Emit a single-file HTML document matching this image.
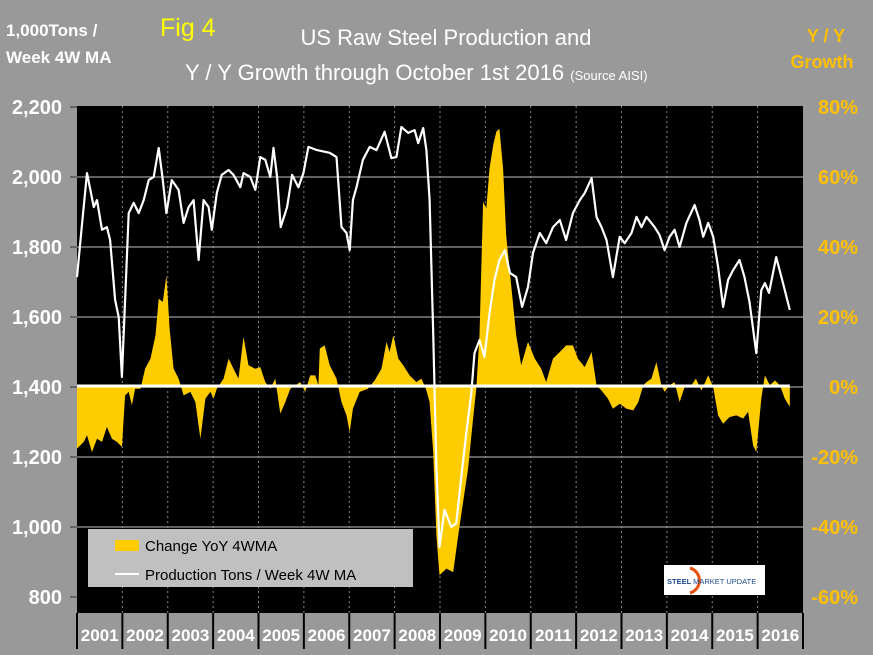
<!DOCTYPE html>
<html><head><meta charset="utf-8"><style>
body{margin:0;background:#999;}
svg{display:block;font-family:"Liberation Sans",Arial,sans-serif;}
</style></head><body>
<svg width="873" height="655" viewBox="0 0 873 655">
<rect width="873" height="655" fill="#999"/>
<text x="6" y="36" font-size="17" font-weight="bold" fill="#fff">1,000Tons /</text>
<text x="6" y="63" font-size="17" font-weight="bold" fill="#fff">Week 4W MA</text>
<text x="160" y="36" font-size="25" fill="#ffff00">Fig 4</text>
<text x="446" y="45" font-size="22" fill="#fff" text-anchor="middle">US Raw Steel Production and</text>
<text x="185" y="80" font-size="22" fill="#fff">Y / Y Growth through October 1st  2016 <tspan font-size="13">(Source AISI)</tspan></text>
<text x="826" y="42" font-size="18" font-weight="bold" fill="#ffc000" text-anchor="middle">Y / Y</text>
<text x="822" y="68" font-size="18" font-weight="bold" fill="#ffc000" text-anchor="middle">Growth</text>
<rect x="77" y="106" width="726" height="507" fill="#000"/>
<g id="grid"></g><g id="area"></g><g id="line"></g><g id="axes"></g>
<rect x="88" y="529" width="325" height="58" fill="#c0c0c0"/>
<rect x="115" y="540" width="24" height="11" fill="#ffcc00"/>
<text x="145" y="551" font-size="15" fill="#000">Change YoY 4WMA</text>
<line x1="115" y1="574" x2="139" y2="574" stroke="#fff" stroke-width="2"/>
<text x="145" y="580" font-size="15" fill="#000">Production Tons / Week 4W MA</text>
<rect x="664" y="565" width="101" height="30" fill="#fff"/>
<path d="M690 568 A13 13 0 0 1 690 593" fill="none" stroke="#e85010" stroke-width="3"/>
<text x="667" y="584" font-size="7.5" font-weight="bold" fill="#1a4a8a">STEEL <tspan font-weight="normal">MARKET UPDATE</tspan></text>
</svg>
<script>
const prodYears=[2001.00,2001.12,2001.22,2001.37,2001.44,2001.55,2001.66,2001.73,2001.84,2001.92,2001.99,2002.06,2002.14,2002.25,2002.36,2002.47,2002.58,2002.69,2002.80,2002.89,2002.97,2003.09,2003.24,2003.35,2003.46,2003.57,2003.68,2003.79,2003.90,2003.97,2004.08,2004.19,2004.34,2004.45,2004.60,2004.67,2004.82,2004.93,2005.04,2005.15,2005.26,2005.33,2005.41,2005.49,2005.63,2005.74,2005.88,2005.99,2006.10,2006.29,2006.57,2006.72,2006.83,2006.94,2007.01,2007.08,2007.16,2007.30,2007.45,2007.60,2007.78,2007.93,2008.04,2008.15,2008.30,2008.44,2008.52,2008.63,2008.70,2008.77,2008.85,2008.92,2008.99,2009.10,2009.25,2009.36,2009.47,2009.58,2009.69,2009.76,2009.87,2009.98,2010.09,2010.20,2010.31,2010.43,2010.54,2010.68,2010.81,2010.94,2011.05,2011.20,2011.34,2011.49,2011.64,2011.78,2011.93,2012.08,2012.19,2012.34,2012.45,2012.56,2012.67,2012.81,2012.96,2013.07,2013.22,2013.33,2013.44,2013.55,2013.73,2013.84,2013.95,2014.06,2014.17,2014.28,2014.43,2014.61,2014.72,2014.80,2014.91,2015.02,2015.13,2015.24,2015.35,2015.46,2015.60,2015.71,2015.82,2015.97,2016.08,2016.16,2016.25,2016.41,2016.56,2016.71];
const prodValues=[1714,1877,2011,1914,1934,1849,1857,1820,1649,1600,1429,1649,1897,1926,1897,1934,1991,2000,2083,1991,1897,1991,1963,1869,1914,1934,1763,1934,1914,1849,1954,2006,2020,2006,1971,2011,2000,1963,2057,2049,2000,2083,2000,1857,1914,2006,1971,2011,2086,2077,2069,2057,1857,1840,1791,1934,1971,2049,2086,2077,2129,2054,2057,2143,2126,2134,2097,2140,2077,1934,1554,1171,943,1049,1000,1011,1143,1269,1383,1497,1534,1486,1611,1706,1763,1791,1726,1714,1629,1686,1783,1840,1811,1857,1877,1820,1897,1934,1954,1997,1886,1857,1820,1714,1829,1811,1840,1886,1857,1886,1857,1834,1791,1829,1849,1800,1869,1920,1877,1829,1869,1829,1743,1629,1706,1734,1763,1714,1643,1497,1677,1697,1669,1771,1697,1620];
const yoyYears=[2001.00,2001.15,2001.22,2001.33,2001.44,2001.55,2001.66,2001.77,2001.88,2001.99,2002.06,2002.14,2002.21,2002.28,2002.40,2002.50,2002.62,2002.73,2002.80,2002.89,2002.97,2003.04,2003.13,2003.24,2003.35,2003.50,2003.61,2003.72,2003.83,2003.94,2004.01,2004.08,2004.23,2004.34,2004.45,2004.56,2004.67,2004.78,2004.93,2005.04,2005.15,2005.26,2005.37,2005.48,2005.59,2005.70,2005.92,2006.03,2006.14,2006.25,2006.32,2006.35,2006.46,2006.57,2006.72,2006.83,2006.94,2007.01,2007.08,2007.23,2007.41,2007.56,2007.71,2007.82,2007.89,2007.97,2008.08,2008.19,2008.33,2008.48,2008.59,2008.69,2008.77,2008.85,2008.92,2008.99,2009.14,2009.29,2009.40,2009.51,2009.62,2009.73,2009.80,2009.87,2009.95,2010.02,2010.09,2010.17,2010.24,2010.31,2010.39,2010.46,2010.57,2010.68,2010.79,2010.94,2011.09,2011.23,2011.34,2011.49,2011.64,2011.78,2011.93,2012.04,2012.19,2012.34,2012.45,2012.56,2012.70,2012.81,2012.96,2013.11,2013.26,2013.37,2013.48,2013.55,2013.66,2013.77,2013.88,2013.95,2014.06,2014.17,2014.28,2014.39,2014.54,2014.64,2014.76,2014.91,2015.02,2015.13,2015.24,2015.38,2015.53,2015.68,2015.79,2015.90,2015.97,2016.08,2016.16,2016.27,2016.38,2016.49,2016.60,2016.71];
const yoyValues=[-17.6,-15.7,-13.8,-18.6,-14.8,-15.7,-11.4,-14.8,-15.7,-17.1,-2.4,-1.4,-5.2,-0.5,-0.5,5.2,8.1,14.8,25.2,24.3,31.9,16.7,5.2,2.4,-2.4,-1.4,-4.3,-14.8,-3.3,-1.4,-3.3,-0.5,2.4,8.1,5.2,2.4,14.3,6.2,5.2,5.7,1.4,-0.5,2.4,-7.6,-4.3,-0.5,1.4,-1.4,3.3,3.3,0.5,11,11.9,6.2,2.4,-4.3,-8.1,-12.9,-6.2,-1.4,-0.5,1.9,5.2,12.9,10,14.8,8.1,6.2,3.3,1.4,2.4,-0.5,-4.3,-18.6,-42.4,-53.8,-51.9,-52.9,-42.4,-32.9,-23.3,-9,-0.5,14.8,52.9,51,62.4,69,72.9,73.8,62.4,43.3,29,14.8,6.2,12.9,8.1,5.2,1.4,8.1,10,11.9,11.9,8.1,5.7,10,0.5,-1,-3.3,-6.2,-4.8,-6.2,-6.7,-4.3,0.5,1.4,2.4,7.1,0.5,-1.4,0.5,1.4,-4.3,0,0.5,2.4,-1,3.3,0,-8.1,-10.5,-8.6,-8.1,-9,-7.1,-16.7,-18.6,-3.3,3.3,0.5,1.9,0.5,-3.3,-5.7];
const leftTicks=[2200,2000,1800,1600,1400,1200,1000,800];
const leftTickLabels=["2,200","2,000","1,800","1,600","1,400","1,200","1,000","800"];
const rightTicks=[80,60,40,20,0,-20,-40,-60];
const rightTickLabels=["80%","60%","40%","20%","0%","-20%","-40%","-60%"];
const yearLabels=["2001","2002","2003","2004","2005","2006","2007","2008","2009","2010","2011","2012","2013","2014","2015","2016"];

const NS="http://www.w3.org/2000/svg";
const xS=y=>77+(y-2001)*45.375;
const yL=v=>107+(2200-v)/200*70;
const yR=v=>387-v*3.5;
function mk(tag,attrs,parent){const e=document.createElementNS(NS,tag);for(const k in attrs)e.setAttribute(k,attrs[k]);document.getElementById(parent).appendChild(e);return e;}

leftTicks.forEach((t,i)=>{
  if(t<2200&&t>800){const g=mk('line',{x1:77,x2:803,y1:yL(t),y2:yL(t),stroke:'#808080','stroke-width':1.5},'grid');
  
  }
  const tk=mk('line',{x1:70,x2:77,y1:yL(t),y2:yL(t),stroke:'#333','stroke-width':1},'axes');
  
  
  const tx=mk('text',{x:62,y:yL(t)+7,'font-size':20,'font-weight':'bold',fill:'#fff','text-anchor':'end'},'axes');
  tx.textContent=leftTickLabels[i];
  
  
});
rightTicks.forEach((t,i)=>{
  const tx=mk('text',{x:858,y:yR(t)+7,'font-size':20,'font-weight':'bold',fill:'#ffc000','text-anchor':'end'},'axes');
  tx.textContent=rightTickLabels[i];
  
  
});
yearLabels.forEach((lab,i)=>{
  const x0=xS(2001+i);
  if(i>0){const d=mk('line',{x1:x0,x2:x0,y1:106,y2:613,stroke:'#888','stroke-width':1,'stroke-dasharray':'2,3'},'grid');
  
  }
  const s=mk('line',{x1:x0,x2:x0,y1:613,y2:649,stroke:'#000','stroke-width':2},'axes');
  
  
  const tx=mk('text',{x:x0+22.7,y:641,'font-size':17,'font-weight':'bold',fill:'#fff','text-anchor':'middle'},'axes');
  tx.textContent=lab;
  
  
});
const sEnd=mk('line',{x1:803,x2:803,y1:613,y2:649,stroke:'#000','stroke-width':2},'axes');



let d='M'+xS(yoyYears[0])+','+yR(0);
yoyYears.forEach((y,i)=>{d+=' L'+xS(y).toFixed(1)+','+yR(yoyValues[i]).toFixed(1);});
d+=' L'+xS(yoyYears[yoyYears.length-1])+','+yR(0)+' Z';
const area=mk('path',{d:d,fill:'#ffcc00'},'area');


const zl=mk('line',{x1:77,x2:xS(yoyYears[yoyYears.length-1]),y1:yR(0)-1,y2:yR(0)-1,stroke:'#fff','stroke-width':3},'area');


const pts=prodYears.map((y,i)=>xS(y).toFixed(1)+','+yL(prodValues[i]).toFixed(1)).join(' ');
const pl=mk('polyline',{points:pts,fill:'none',stroke:'#fff','stroke-width':2.2,'stroke-linejoin':'round'},'line');


</script>
</body></html>
